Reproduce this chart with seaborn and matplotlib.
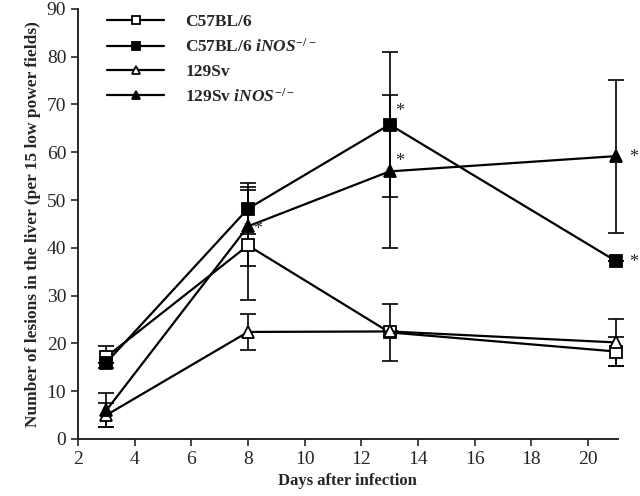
import matplotlib
matplotlib.use('Agg')
import matplotlib.pyplot as plt
import seaborn as sns
import numpy as np
import pandas as pd

days = [3, 8, 13, 21]
series_names = ['C57BL/6', 'C57BL/6 $\\mathit{iNOS}^{-/-}$', '129Sv', '129Sv $\\mathit{iNOS}^{-/-}$']
b6_wt = [17.2, 40.5, 22.3, 18.3]
b6_wt_err = [2.3, 11.5, 6.0, 3.0]
b6_ko = [16.0, 48.2, 65.8, 37.2]
b6_ko_err = [0.0, 5.3, 15.2, 0.0]
sv_wt = [5.0, 22.4, 22.5, 20.2]
sv_wt_err = [2.5, 3.7, 0.0, 5.0]
sv_ko = [6.0, 44.5, 56.0, 59.2]
sv_ko_err = [3.6, 8.2, 16.0, 16.0]
# significance stars (x, y)
star_x = [8.35, 13.35, 13.35, 21.6, 21.6]
star_y = [43.8, 68.5, 58.0, 59.0, 37.0]

values = [b6_wt, b6_ko, sv_wt, sv_ko]
errors = [b6_wt_err, b6_ko_err, sv_wt_err, sv_ko_err]
markers = ['s', 's', '^', '^']
faces = ['white', 'black', 'white', 'black']

df = pd.DataFrame({
    'day': days * 4,
    'lesions': np.concatenate(values),
    'err': np.concatenate(errors),
    'group': np.repeat(series_names, len(days)),
})

sns.set_style('ticks')
plt.rcParams['font.family'] = ['Liberation Serif', 'DejaVu Serif']
plt.rcParams['mathtext.fontset'] = 'custom'
plt.rcParams['mathtext.it'] = 'Liberation Serif:italic:bold'
plt.rcParams['mathtext.rm'] = 'Liberation Serif:bold'

fig = plt.figure(figsize=(6.4, 4.96), dpi=100)
ax = fig.add_axes([0.122, 0.115, 0.843, 0.867])

for name, m, fc in zip(series_names, markers, faces):
    sub = df[df['group'] == name]
    ax.errorbar(sub['day'], sub['lesions'], yerr=sub['err'], fmt='none',
                ecolor='black', elinewidth=1.2, capsize=6, capthick=1.2, zorder=2,
                clip_on=False)
    sns.lineplot(data=sub, x='day', y='lesions', ax=ax, color='black', lw=1.6,
                 marker=m, markersize=8.5, markerfacecolor=fc,
                 markeredgecolor='black', markeredgewidth=1.3, label=name, zorder=3,
                 clip_on=False)

for sx, sy in zip(star_x, star_y):
    ax.text(sx, sy, '*', fontsize=13, ha='center', va='center', clip_on=False)

ax.set_xlim(2, 21.05)
ax.set_ylim(0, 90)
ax.set_xticks(np.arange(2, 21, 2))
ax.set_yticks(np.arange(0, 91, 10))
ax.tick_params(direction='out', length=5, width=1.2, labelsize=14)
for s in ['left', 'bottom']:
    ax.spines[s].set_linewidth(1.4)
sns.despine(ax=ax)
ax.set_xlabel('Days after infection', fontsize=12, fontweight='bold')
ax.set_ylabel('Number of lesions in the liver (per 15 low power fields)', fontsize=12.5, fontweight='bold')

leg = ax.legend(loc='upper left', bbox_to_anchor=(0.025, 1.025), frameon=False,
                prop={'weight': 'bold', 'size': 12.5}, handlelength=3.3,
                labelspacing=0.45, handletextpad=1.2, markerscale=0.75)

fig.savefig('out.png', dpi=100)
